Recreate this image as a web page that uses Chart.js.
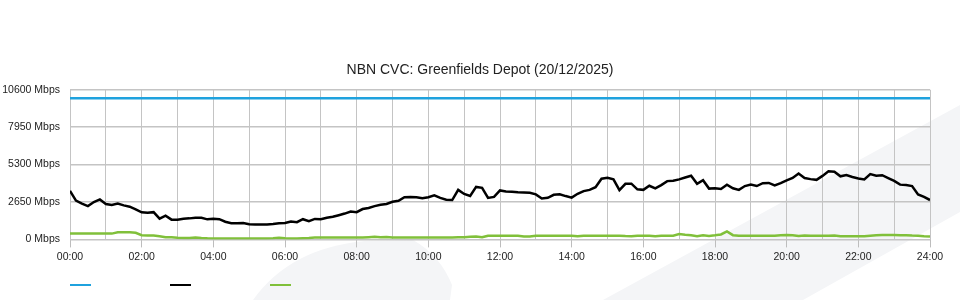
<!DOCTYPE html>
<html>
<head>
<meta charset="utf-8">
<script src="https://cdn.jsdelivr.net/npm/chart.js@4"></script>
<style>
  html, body { margin: 0; padding: 0; background: #fff; }
  #wrap { width: 960px; height: 300px; position: relative; }
</style>
</head>
<body>
<div id="wrap"><canvas id="cvc"></canvas></div>
<script>
// CVC usage, 10 minute samples from 00:00 to 24:00 (Mbps)
const capacityMbps = 10000;
const usageMbps = [
  3440, 2750, 2530, 2360, 2650, 2830, 2510, 2440, 2540, 2410,
  2320, 2130, 1920, 1890, 1930, 1470, 1680, 1400, 1400, 1460,
  1490, 1530, 1530, 1420, 1460, 1430, 1250, 1150, 1140, 1160,
  1070, 1050, 1050, 1050, 1090, 1140, 1170, 1270, 1220, 1430,
  1290, 1450, 1430, 1540, 1600, 1710, 1830, 1970, 1930, 2150,
  2230, 2360, 2450, 2510, 2670, 2740, 2990, 3010, 2990, 2920,
  2990, 3120, 2940, 2810, 2790, 3510, 3220, 3080, 3720, 3650,
  2940, 3010, 3470, 3400, 3370, 3340, 3320, 3300, 3190, 2900,
  2950, 3160, 3200, 3070, 2960, 3230, 3420, 3510, 3700, 4300,
  4370, 4260, 3490, 3940, 3950, 3550, 3510, 3800, 3610, 3850,
  4130, 4150, 4250, 4390, 4510, 3940, 4190, 3600, 3630, 3570,
  3880, 3620, 3510, 3780, 3880, 3780, 3980, 4000, 3820, 3990,
  4180, 4350, 4670, 4350, 4270, 4220, 4500, 4820, 4800, 4470,
  4560, 4420, 4320, 4250, 4630, 4510, 4550, 4350, 4150, 3880,
  3850, 3780, 3190, 3010, 2790
];
const uploadMbps = [
  410, 410, 410, 410, 410, 410, 410, 410, 500, 500,
  500, 470, 300, 280, 280, 230, 150, 150, 120, 100,
  100, 130, 100, 80, 70, 70, 70, 70, 70, 70,
  70, 70, 70, 70, 90, 120, 90, 70, 70, 90,
  100, 140, 140, 140, 140, 140, 140, 140, 140, 140,
  160, 180, 150, 170, 140, 140, 140, 140, 140, 140,
  140, 140, 140, 140, 140, 160, 150, 180, 200, 150,
  260, 260, 260, 260, 260, 260, 200, 200, 260, 260,
  260, 260, 260, 260, 260, 220, 250, 260, 260, 260,
  260, 260, 260, 240, 230, 250, 260, 250, 230, 250,
  260, 260, 380, 330, 290, 230, 290, 250, 290, 350,
  570, 300, 260, 260, 260, 260, 260, 260, 260, 300,
  320, 300, 240, 270, 250, 250, 250, 250, 280, 220,
  220, 220, 220, 220, 260, 290, 320, 320, 320, 300,
  300, 270, 260, 220, 200
];
const yTicks = [0, 2650, 5300, 7950, 10600];
const seriesColors = ['#1fa2de', '#000000', '#80c03a'];

// sample time in hours
const hours = usageMbps.map((_, i) => i / 6);

const backdrop = {
  id: 'backdrop',
  beforeDraw(chart) {
    const c = chart.ctx;
    c.save();
    c.fillStyle = '#f4f5f7';
    c.beginPath();
    c.moveTo(960, 105);
    c.lineTo(960, 212);
    c.lineTo(803, 300);
    c.lineTo(603, 300);
    c.closePath();
    c.fill();
    c.beginPath();
    c.moveTo(253, 300);
    c.quadraticCurveTo(290, 248, 365, 241);
    c.lineTo(413, 240);
    c.quadraticCurveTo(440, 255, 452, 285);
    c.lineTo(450, 300);
    c.closePath();
    c.fill();
    c.restore();
  }
};

// little coloured dashes under the axis, no text
const lineKeys = {
  id: 'lineKeys',
  afterDraw(chart) {
    const c = chart.ctx;
    const left = chart.chartArea.left;
    c.save();
    c.lineWidth = 2;
    chart.data.datasets.forEach((ds, i) => {
      c.strokeStyle = ds.borderColor;
      c.beginPath();
      c.moveTo(left + i * 100, 285);
      c.lineTo(left + i * 100 + 21, 285);
      c.stroke();
    });
    c.restore();
  }
};

new Chart(document.getElementById('cvc'), {
  type: 'line',
  data: {
    datasets: [
      {
        label: 'Capacity',
        data: [{ x: 0, y: capacityMbps }, { x: 24, y: capacityMbps }],
        borderColor: seriesColors[0],
        borderWidth: 2.5,
        pointRadius: 0
      },
      {
        label: 'Download',
        data: hours.map((h, i) => ({ x: h, y: usageMbps[i] })),
        borderColor: seriesColors[1],
        borderWidth: 2.5,
        pointRadius: 0
      },
      {
        label: 'Upload',
        data: hours.map((h, i) => ({ x: h, y: uploadMbps[i] })),
        borderColor: seriesColors[2],
        borderWidth: 2.5,
        pointRadius: 0
      }
    ]
  },
  options: {
    responsive: true,
    maintainAspectRatio: false,
    animation: false,
    layout: { padding: { top: 0, left: 0, right: 0, bottom: 34 } },
    plugins: {
      legend: { display: false },
      tooltip: { enabled: false },
      title: {
        display: true,
        text: 'NBN CVC: Greenfields Depot (20/12/2025)',
        color: '#222',
        font: { family: 'Liberation Sans', size: 14, weight: 'normal' },
        padding: { top: 62, bottom: 11 }
      }
    },
    scales: {
      x: {
        type: 'linear',
        min: 0,
        max: 24,
        afterBuildTicks: (s) => {
          s.ticks = [];
          for (let h = 0; h <= 24; h++) s.ticks.push({ value: h });
        },
        ticks: {
          autoSkip: false,
          maxRotation: 0,
          padding: 3,
          color: '#222',
          font: { family: 'Liberation Sans', size: 10.5 },
          callback: (v) => (v % 2 === 0 ? String(v).padStart(2, '0') + ':00' : '')
        },
        grid: {
          color: '#c4c4c4',
          lineWidth: 1,
          tickLength: 8,
          tickColor: (ctx) => (ctx.tick && ctx.tick.value % 2 === 0 ? '#bdbdbd' : 'rgba(0,0,0,0)')
        },
        border: { color: '#c4c4c4' }
      },
      y: {
        min: 0,
        max: 10600,
        afterBuildTicks: (s) => { s.ticks = yTicks.map((v) => ({ value: v })); },
        afterFit: (s) => { s.width = 70; },
        ticks: {
          padding: 10,
          color: '#222',
          font: { family: 'Liberation Sans', size: 10.5 },
          callback: (v) => v + ' Mbps'
        },
        grid: { color: '#c4c4c4', lineWidth: 1.5, drawTicks: false },
        border: { color: '#c4c4c4' }
      },
      yRight: {
        position: 'right',
        display: true,
        ticks: { display: false },
        grid: { display: false },
        border: { display: false },
        afterFit: (s) => { s.width = 30; }
      }
    }
  },
  plugins: [backdrop, lineKeys]
});
</script>
</body>
</html>
